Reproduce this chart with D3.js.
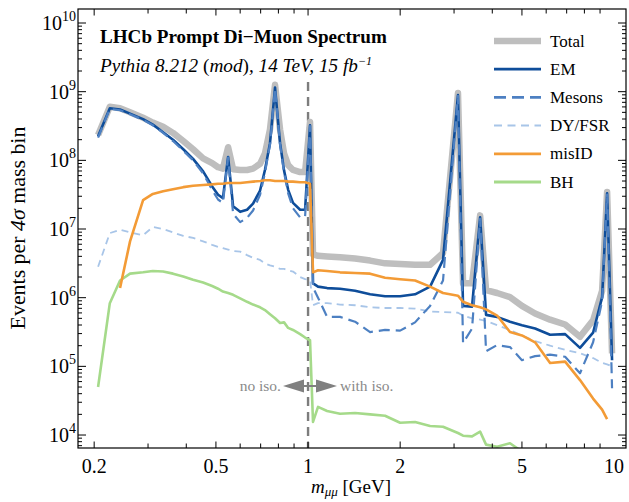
<!DOCTYPE html>
<html><head><meta charset="utf-8">
<script src="https://cdn.jsdelivr.net/npm/d3@7"></script>
<style>
body{margin:0;background:#fff}
svg{display:block}
text{font-family:"Liberation Serif","Times New Roman","DejaVu Serif",serif;fill:#000}
</style>
</head><body>
<svg id="chart" width="629" height="502"></svg>
<script>
// ---------- data ----------
const masses = [0.206,0.225,0.243,0.262,0.289,0.311,0.336,0.362,0.391,0.421,
  0.454,0.486,0.508,0.527,0.548,0.569,0.600,0.632,0.661,0.697,
  0.723,0.751,0.780,0.810,0.835,0.861,0.893,0.942,0.978,1.015,
  1.038,1.078,1.154,1.272,1.424,1.595,1.785,1.999,2.237,2.505,
  2.761,3.09,3.21,3.435,3.65,3.817,4.147,4.57,5.0,5.52,
  6.18,6.92,7.74,8.54,9.14,9.49,9.85];

const totalEvents = [2.34e8,6.03e8,5.75e8,5.01e8,4.17e8,3.55e8,3.09e8,2.51e8,1.91e8,1.45e8,
  1.07e8,9.12e7,7.94e7,7.59e7,1.55e8,7.41e7,7.24e7,7.24e7,7.59e7,8.91e7,
  1.26e8,2.82e8,1.26e9,2.82e8,1.26e8,8.51e7,7.24e7,6.76e7,6.76e7,3.63e8,
  4.27e6,4.07e6,3.98e6,3.89e6,3.72e6,3.47e6,3.16e6,3.09e6,3.02e6,3.02e6,
  4.47e6,9.55e8,1.62e6,1.62e6,1.58e7,1.29e6,1.17e6,1.02e6,7.59e5,5.89e5,
  4.79e5,4.07e5,2.69e5,4.68e5,1.26e6,3.47e7,1.55e5];

const emEvents = [2.24e8,5.75e8,5.50e8,4.79e8,3.98e8,3.31e8,2.57e8,2.0e8,1.45e8,1.05e8,
  6.92e7,4.17e7,3.16e7,2.82e7,1.12e8,2.14e7,1.78e7,1.91e7,2.34e7,3.63e7,
  7.24e7,1.78e8,1.15e9,1.78e8,7.08e7,3.72e7,2.40e7,1.91e7,1.91e7,3.24e8,
  1.62e6,1.45e6,1.38e6,1.35e6,1.26e6,1.12e6,1.05e6,1.05e6,1.12e6,1.45e6,
  3.55e6,8.91e8,7.59e5,7.41e5,1.48e7,5.62e5,5.25e5,4.47e5,3.98e5,3.55e5,
  2.88e5,2.95e5,1.86e5,3.09e5,1.02e6,3.31e7,1.23e5];

const mesonEvents = [2.14e8,5.62e8,5.37e8,4.68e8,3.89e8,3.24e8,2.51e8,1.91e8,1.38e8,1.0e8,
  6.46e7,3.72e7,2.69e7,2.40e7,1.10e8,1.66e7,1.26e7,1.45e7,1.86e7,3.16e7,
  6.61e7,1.70e8,1.12e9,1.70e8,6.61e7,3.31e7,2.0e7,1.48e7,1.51e7,3.16e8,
  1.41e6,1.0e6,5.25e5,5.25e5,4.47e5,3.16e5,3.39e5,3.31e5,4.37e5,7.59e5,
  1.78e6,8.71e8,2.19e5,3.55e5,1.41e7,1.66e5,2.04e5,1.91e5,1.23e5,1.41e5,
  1.48e5,1.38e5,7.94e4,2.24e5,8.91e5,3.16e7,4.79e4];

const dyEvents = [2.82e6,8.71e6,9.77e6,8.91e6,8.13e6,1.07e7,1.0e7,8.91e6,7.94e6,7.41e6,
  6.61e6,5.89e6,5.50e6,5.25e6,5.01e6,4.79e6,4.68e6,4.17e6,3.80e6,3.55e6,
  3.16e6,2.95e6,2.82e6,2.63e6,2.63e6,2.51e6,2.40e6,2.0e6,1.86e6,1.82e6,
  7.76e5,8.32e5,8.32e5,7.94e5,7.76e5,7.24e5,7.08e5,7.08e5,6.92e5,6.31e5,
  6.17e5,6.03e5,5.50e5,5.01e5,4.79e5,4.57e5,3.98e5,3.39e5,2.82e5,2.34e5,
  2.0e5,1.74e5,1.55e5,1.32e5,1.12e5,1.07e5,1.0e5];

const misIDEvents = [null,null,1.38e6,6.61e6,2.63e7,3.24e7,3.55e7,3.80e7,4.07e7,4.27e7,
  4.37e7,4.47e7,4.57e7,4.57e7,4.68e7,4.68e7,4.68e7,4.79e7,4.90e7,5.01e7,
  5.13e7,5.13e7,5.01e7,5.01e7,5.01e7,4.90e7,4.90e7,4.79e7,4.79e7,4.57e7,
  2.34e6,2.51e6,2.45e6,2.34e6,2.29e6,2.24e6,1.95e6,1.86e6,1.78e6,1.45e6,
  1.17e6,1.07e6,8.71e5,7.76e5,7.24e5,6.76e5,5.50e5,3.16e5,2.82e5,2.24e5,
  1.12e5,1.17e5,6.31e4,3.39e4,2.34e4,1.70e4,null];

const bhEvents = [5.01e4,8.32e5,1.78e6,2.24e6,2.34e6,2.45e6,2.40e6,2.24e6,2.04e6,1.82e6,
  1.66e6,1.48e6,1.35e6,1.23e6,1.17e6,1.10e6,9.77e5,8.71e5,7.94e5,7.24e5,
  6.61e5,5.75e5,5.01e5,4.27e5,4.37e5,3.63e5,3.39e5,2.95e5,2.63e5,2.40e5,
  1.55e4,2.57e4,2.24e4,2.04e4,2.09e4,2.0e4,1.91e4,1.51e4,1.55e4,1.35e4,
  1.32e4,1.07e4,9.77e3,9.55e3,1.12e4,7.24e3,6.76e3,7.59e3,5.75e3,null,
  null,null,null,null,null,null,null];

const seriesNames = ["Total","EM","Mesons","DY/FSR","misID","BH"];
const xTickValues = [0.2,0.5,1,2,5,10];
const xTickLabels = ["0.2","0.5","1","2","5","10"];
const yTickExponents = [4,5,6,7,8,9,10];

// ---------- layout ----------
const L = 78, R = 626, T = 9, B = 448;
const svg = d3.select("#chart");
const x = d3.scaleLog().domain([0.1771, 10.94]).range([L, R]);
const y = d3.scaleLog().domain([Math.pow(10,3.811), Math.pow(10,10.204)]).range([B, T]);

const styles = {
  "Total":  {color:"#bebebe", w:6.5, dash:null},
  "EM":     {color:"#0e4d9a", w:2.6, dash:null},
  "Mesons": {color:"#4d80c2", w:2.2, dash:"11,6"},
  "DY/FSR": {color:"#a8c5e8", w:1.8, dash:"7,5"},
  "misID":  {color:"#f39b36", w:2.6, dash:null},
  "BH":     {color:"#a5da8a", w:2.6, dash:null}
};
const seriesData = {
  "Total": totalEvents, "EM": emEvents, "Mesons": mesonEvents,
  "DY/FSR": dyEvents, "misID": misIDEvents, "BH": bhEvents
};

svg.append("defs").append("clipPath").attr("id","plotclip")
  .append("rect").attr("x",L).attr("y",T).attr("width",R-L).attr("height",B-T);

const plot = svg.append("g").attr("clip-path","url(#plotclip)");

// isolation boundary
plot.append("line").attr("x1",x(1)).attr("x2",x(1)).attr("y1",82).attr("y2",B)
  .attr("stroke","#7d7d7d").attr("stroke-width",2.4).attr("stroke-dasharray","9,6");

const line = d3.line()
  .defined(d => d[1] != null)
  .x(d => x(d[0])).y(d => y(d[1]));

const drawOrder = ["Total","DY/FSR","EM","Mesons","BH","misID"];
drawOrder.forEach(name => {
  const st = styles[name];
  const pts = masses.map((m,i) => [m, seriesData[name][i]]);
  plot.append("path").datum(pts).attr("d", line)
    .attr("fill","none").attr("stroke",st.color).attr("stroke-width",st.w)
    .attr("stroke-linejoin","round")
    .attr("stroke-dasharray", st.dash);
});

// ---------- axes ----------
const xMinor = [];
[0.1,1].forEach(d => { for (let k=1;k<=9;k++){ const v=k*d; if (v>=0.18 && v<=10.5) xMinor.push(v);} });
const xMajorSet = new Set(xTickValues.map(String));
const axisG = svg.append("g").attr("stroke","#000");
xMinor.forEach(v => {
  const len = xMajorSet.has(String(+v.toFixed(3))) ? 6.5 : 4.5;
  const px = x(v);
  axisG.append("line").attr("x1",px).attr("x2",px).attr("y1",B).attr("y2",B-len).attr("stroke-width",1);
  axisG.append("line").attr("x1",px).attr("x2",px).attr("y1",T).attr("y2",T+len).attr("stroke-width",1);
});
yTickExponents.concat([3]).forEach(e => {
  for (let k=1;k<=9;k++){
    const v = k*Math.pow(10,e);
    if (v < y.domain()[0] || v > y.domain()[1]) continue;
    const len = k===1 ? 8 : 4;
    const py = y(v);
    axisG.append("line").attr("x1",L).attr("x2",L+len).attr("y1",py).attr("y2",py).attr("stroke-width",1);
    axisG.append("line").attr("x1",R).attr("x2",R-len).attr("y1",py).attr("y2",py).attr("stroke-width",1);
  }
});
svg.append("rect").attr("x",L).attr("y",T).attr("width",R-L).attr("height",B-T)
  .attr("fill","none").attr("stroke","#000").attr("stroke-width",1.2);

// x tick labels
xTickValues.forEach((v,i) => {
  svg.append("text").attr("x",x(v)).attr("y",473).attr("text-anchor","middle")
    .attr("font-size",20).text(xTickLabels[i]);
});
// y tick labels
yTickExponents.forEach(e => {
  const t = svg.append("text").attr("x",76).attr("y",y(Math.pow(10,e))+7)
    .attr("text-anchor","end").attr("font-size",20);
  t.append("tspan").text("10");
  t.append("tspan").attr("dy",-9).attr("font-size",14).text(String(e));
});

// axis titles
const xl = svg.append("text").attr("x",351).attr("y",493).attr("text-anchor","middle").attr("font-size",19);
xl.append("tspan").attr("font-style","italic").text("m");
xl.append("tspan").attr("font-style","italic").attr("font-size",13).attr("dy",3).text("μμ");
xl.append("tspan").attr("dy",-3).text(" [GeV]");

const yl = svg.append("text").attr("transform","translate(25,228) rotate(-90)")
  .attr("text-anchor","middle").attr("font-size",19);
yl.append("tspan").text("Events per ");
yl.append("tspan").attr("font-style","italic").text("4σ");
yl.append("tspan").text(" mass bin");

function fitWidth(sel, target){
  const w = sel.node().getComputedTextLength();
  const fs = parseFloat(sel.attr("font-size"));
  if (w > 0) sel.attr("font-size", fs*target/w);
}
fitWidth(yl, 203);

// title & subtitle
const title = svg.append("text").attr("x",100).attr("y",43).attr("font-size",19)
  .attr("font-weight","bold").text("LHCb Prompt Di\u2212Muon Spectrum");
fitWidth(title, 287);
const sub = svg.append("text").attr("x",100).attr("y",72).attr("font-size",17).attr("font-style","italic");
sub.append("tspan").text("Pythia 8.212 ");
sub.append("tspan").attr("font-style","normal").text("(");
sub.append("tspan").text("mod");
sub.append("tspan").attr("font-style","normal").text(")");
sub.append("tspan").text(", 14 TeV, 15 fb");
sub.append("tspan").attr("font-size",12).attr("dy",-7).text("\u22121");
fitWidth(sub, 274);

// legend
seriesNames.forEach((name,i) => {
  const st = styles[name];
  const ly = 41 + i*28.2;
  svg.append("line").attr("x1",494).attr("x2",541).attr("y1",ly).attr("y2",ly)
    .attr("stroke",st.color).attr("stroke-width",name==="Total"?6.5:(name==="DY/FSR"?2:2.8))
    .attr("stroke-dasharray", name==="Mesons" ? "12,6" : (name==="DY/FSR" ? "8,5.5" : null));
  svg.append("text").attr("x",550).attr("y",ly+5.5).attr("font-size",17).text(name);
});

// isolation annotation
const ag = svg.append("g");
const ay = 386;
ag.append("line").attr("x1",298).attr("x2",322).attr("y1",ay).attr("y2",ay).attr("stroke","#808080").attr("stroke-width",2);
ag.append("path").attr("d",`M283,${ay} L304,${ay-6.5} L304,${ay+6.5} Z`).attr("fill","#808080");
ag.append("path").attr("d",`M337,${ay} L316,${ay-6.5} L316,${ay+6.5} Z`).attr("fill","#808080");
svg.append("text").attr("x",281).attr("y",391).attr("text-anchor","end").attr("font-size",15.5)
  .style("fill","#8a8a8a").text("no iso.");
svg.append("text").attr("x",340).attr("y",391).attr("font-size",15.5)
  .style("fill","#8a8a8a").text("with iso.");
</script>
</body></html>
